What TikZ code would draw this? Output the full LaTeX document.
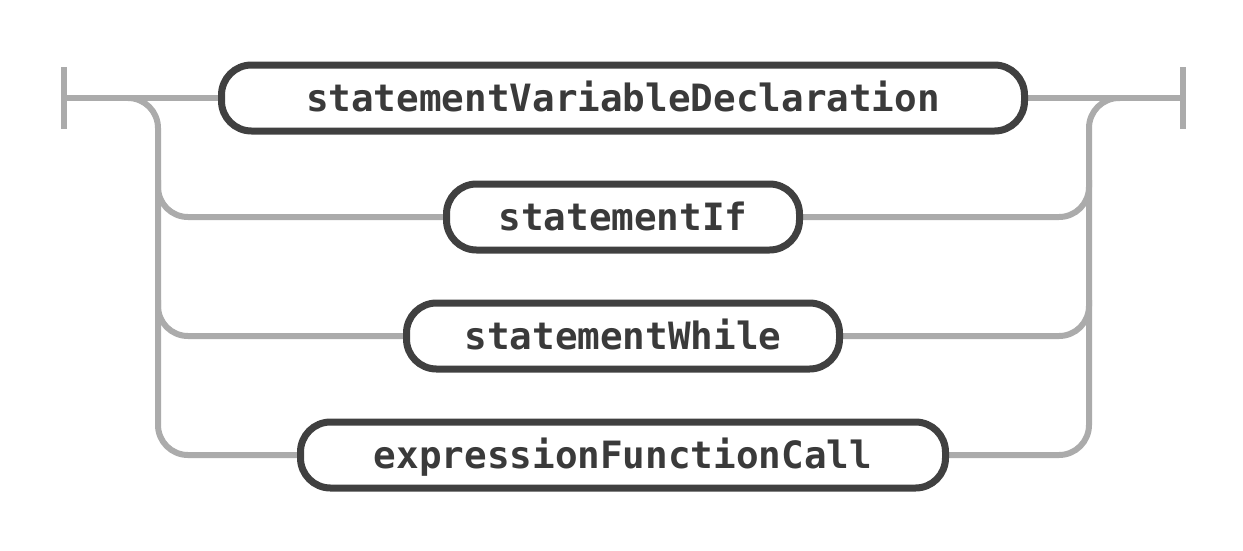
\documentclass[tikz,border=0pt]{standalone}
\usepackage{fontspec}
\usetikzlibrary{backgrounds}
\newfontfamily\rrfont{DejaVu Sans Mono}
\definecolor{railgray}{HTML}{ABABAB}
\definecolor{boxdark}{HTML}{404040}
\definecolor{textdark}{HTML}{3A3A3A}
\tikzset{
  rail/.style={draw=railgray, line width=6pt, line cap=butt},
  nonterm/.style={draw=boxdark, line width=7pt, fill=white, rectangle,
    rounded corners=30pt, minimum height=66pt, inner sep=0pt,
    text height=27pt, text depth=0pt, text=textdark,
    font=\rrfont\bfseries\fontsize{37.6}{44}\selectfont}
}
\begin{document}
\begin{tikzpicture}[x=1pt,y=-1pt]
\useasboundingbox (0,0) rectangle (1243,550);
% nodes
\node[nonterm, minimum width=803pt] (b1) at (623,98) {statementVariableDeclaration};
\node[nonterm, minimum width=353pt] (b2) at (623,217) {statementIf};
\node[nonterm, minimum width=433pt] (b3) at (623,336) {statementWhile};
\node[nonterm, minimum width=645pt] (b4) at (623,455) {expressionFunctionCall};
% start / end
\coordinate (s) at (64,98);
\coordinate (st) at (64,67);
\coordinate (sb) at (64,129);
\coordinate (e) at (1183,98);
\coordinate (et) at (1183,67);
\coordinate (eb) at (1183,129);
\coordinate (lsplit) at (128,98);
\coordinate (lrail) at (158,455);
\coordinate (l2) at (158,180);
\coordinate (l3) at (158,300);
\coordinate (rrail) at (1089,98);
\coordinate (rjoin) at (1120,98);
\coordinate (r2) at (1089,180);
\coordinate (r3) at (1089,300);
\begin{scope}[on background layer]
\draw[rail] (st) -- (sb);
\draw[rail] (et) -- (eb);
\draw[rail] (s) -- (b1.west);
\draw[rail] (b1.east) -- (e);
\draw[rail, rounded corners=30pt] (lsplit) -| (lrail) -- (b4.west);
\draw[rail, rounded corners=30pt] (l2) |- (b2.west);
\draw[rail, rounded corners=30pt] (l3) |- (b3.west);
\draw[rail, rounded corners=30pt] (b4.east) -| (rrail) -- (rjoin);
\draw[rail, rounded corners=30pt] (b2.east) -| (r2);
\draw[rail, rounded corners=30pt] (b3.east) -| (r3);
\end{scope}
\end{tikzpicture}
\end{document}
